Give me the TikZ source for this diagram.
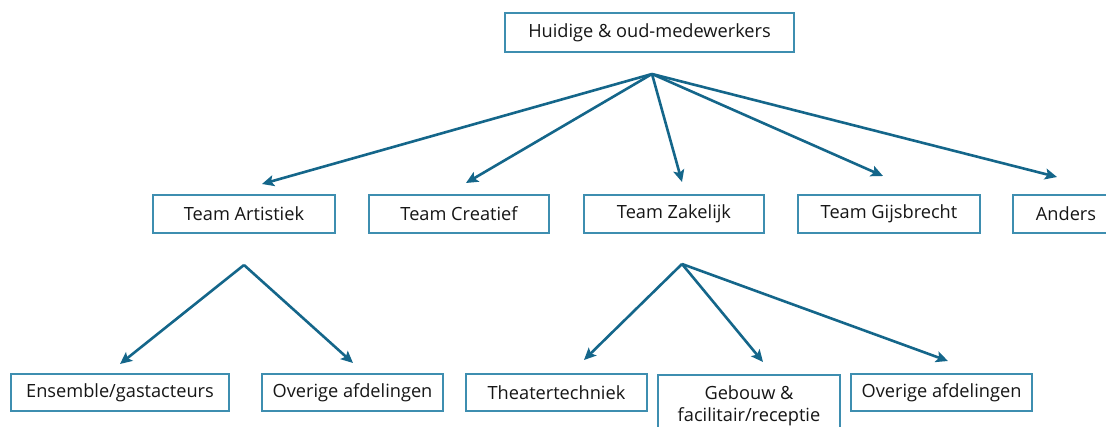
\documentclass[tikz,border=0pt]{standalone}
\usepackage{fontspec}
\setmainfont{Open Sans}
\usetikzlibrary{arrows.meta}
\definecolor{boxc}{RGB}{62,142,176}
\definecolor{linec}{RGB}{20,102,138}
\definecolor{txtc}{RGB}{22,22,22}
\begin{document}
\begin{tikzpicture}[x=1pt,y=-1pt,
  box/.style={draw=boxc,line width=1.8pt,fill=white,rectangle,inner sep=0pt,
    text=txtc,font=\fontsize{18.2}{22.5}\selectfont,align=center},
  conn/.style={draw=linec,line width=2.6pt,-{Stealth[length=12pt,width=11pt,inset=2.5pt]}}]
\useasboundingbox[fill=white] (0,0) rectangle (1106,427);
% top
\node[box,minimum width=289pt,minimum height=39pt] (top) at (649.5,32.5) {Huidige \& oud-medewerkers};
% middle row
\node[box,minimum width=182pt,minimum height=38pt] (art) at (244,214) {Team Artistiek};
\node[box,minimum width=180pt,minimum height=38pt] (cre) at (459,214) {Team Creatief};
\node[box,minimum width=180pt,minimum height=38pt] (zak) at (674,214) {Team Zakelijk};
\node[box,minimum width=182pt,minimum height=38pt] (gij) at (889,214) {Team Gijsbrecht};
\node[box,minimum width=106pt,minimum height=38pt] (and) at (1066,214) {Anders};
% bottom row
\node[box,minimum width=218pt,minimum height=37pt] (ens) at (120,392.5) {Ensemble/gastacteurs};
\node[box,minimum width=181pt,minimum height=37pt] (ov1) at (352.5,392.5) {Overige afdelingen};
\node[box,minimum width=181pt,minimum height=37pt] (the) at (556.5,392.5) {Theatertechniek};
\node[box,minimum width=182pt,minimum height=62pt,anchor=north,inner ysep=6.5pt] (geb) at (749,374) {Gebouw \&\\facilitair/receptie};
\node[box,minimum width=181pt,minimum height=37pt] (ov2) at (941.5,392.5) {Overige afdelingen};
% connector points
\coordinate (h0) at (652,74);
\coordinate (t1) at (262,184);
\coordinate (t2) at (466,183);
\coordinate (t3) at (682,182);
\coordinate (t4) at (883,176);
\coordinate (t5) at (1057,177);
\coordinate (h1) at (244,265);
\coordinate (b1) at (120,364);
\coordinate (b2) at (353,363);
\coordinate (h2) at (682,264);
\coordinate (b3) at (584,360);
\coordinate (b4) at (763,362);
\coordinate (b5) at (948,361);
\foreach \t in {t1,t2,t3,t4,t5} \draw[conn] (h0) -- (\t);
\foreach \t in {b1,b2} \draw[conn] (h1) -- (\t);
\foreach \t in {b3,b4,b5} \draw[conn] (h2) -- (\t);
\end{tikzpicture}
\end{document}
